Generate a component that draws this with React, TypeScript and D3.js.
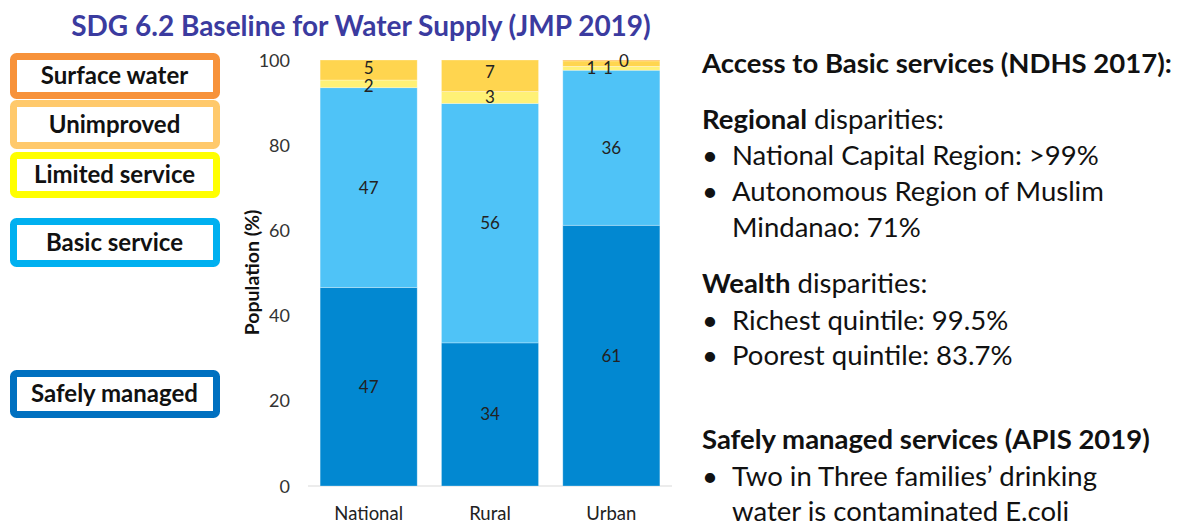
import React from "react";
import * as d3 from "d3";

const categories = ["National", "Rural", "Urban"];
const seriesNames = ["Safely managed", "Basic service", "Limited service", "Unimproved", "Surface water"];
const safelyManaged = [46.6, 33.6, 61.2];
const basicService = [46.9, 56.2, 36.4];
const limitedService = [1.8, 2.8, 0.9];
const unimproved = [4.7, 7.4, 1.3];
const surfaceWater = [0, 0, 0.2];
const valueLabels = [
  ["47", "47", "2", "5", null],
  ["34", "56", "3", "7", null],
  ["61", "36", "1", "1", "0"],
];
const yTicks = [0, 20, 40, 60, 80, 100];

const barColors = ["#0288D1", "#4FC3F7", "#FFF176", "#FFD54F", "#FFA726"];
const legendColors = ["#0070C0", "#00B0F0", "#FFFF00", "#FFC96B", "#F7923A"];

const FONT = "Lato, 'Open Sans', sans-serif";

export default function App() {
  const width = 1179;
  const height = 525;
  const y = d3.scaleLinear().domain([0, 100]).range([486, 60]);
  const x = d3.scaleBand<string>().domain(categories).range([308, 672]).paddingInner(0.2).paddingOuter(0.1);
  const seriesValues = [safelyManaged, basicService, limitedService, unimproved, surfaceWater];
  const table = categories.map((c, i) => {
    const row: any = { cat: c };
    seriesNames.forEach((s, k) => (row[s] = seriesValues[k][i]));
    return row;
  });
  const stacked = d3.stack<any>().keys(seriesNames)(table);

  // label nudges for crowded small segments
  const nudge = (ci: number, si: number): [number, number] => {
    if (ci === 2 && si === 2) return [-20, 0];
    if (ci === 2 && si === 3) return [-3.5, 4];
    if (ci === 2 && si === 4) return [12.5, 1];
    if (ci === 0 && si === 3) return [0, -2];
    if (ci === 0 && si === 2) return [0, 2.5];
    if (ci === 1 && si === 3) return [0, -4];
    return [0, 0];
  };

  const legendBoxes = [
    { name: "Surface water", si: 4, y0: 56.5, y1: 95.5 },
    { name: "Unimproved", si: 3, y0: 103.5, y1: 145.5 },
    { name: "Limited service", si: 2, y0: 155.5, y1: 194.5 },
    { name: "Basic service", si: 1, y0: 221.5, y1: 263.5 },
    { name: "Safely managed", si: 0, y0: 373.5, y1: 414.5 },
  ];

  return (
    <svg width={width} height={height} style={{ position: "absolute", left: 0, top: 0, background: "#fff" }}>
      <text x={361} y={36} textAnchor="middle" fontFamily={FONT} fontWeight={700} fontSize={28} fill="#3B3B9F">
        SDG 6.2 Baseline for Water Supply (JMP 2019)
      </text>

      {legendBoxes.map((b) => (
        <g key={b.name}>
          <rect x={13.5} y={b.y0} width={203} height={b.y1 - b.y0} rx={3} fill="#fff" stroke={legendColors[b.si]} strokeWidth={7} />
          <text x={114.5} y={(b.y0 + b.y1) / 2 + 8} textAnchor="middle" fontFamily={FONT} fontWeight={700} fontSize={24} fill="#111">
            {b.name}
          </text>
        </g>
      ))}

      <line x1={308} x2={672} y1={y(0)} y2={y(0)} stroke="#d9d9d9" strokeWidth={1} />
      {yTicks.map((t) => (
        <text key={t} x={290} y={y(t) + 6.5} textAnchor="end" fontFamily={FONT} fontSize={18} fill="#333">
          {t}
        </text>
      ))}
      <text transform={`translate(259,${(210 + 335) / 2}) rotate(-90)`} textAnchor="middle" fontFamily={FONT} fontWeight={700} fontSize={19.5} fill="#111">
        Population (%)
      </text>

      {stacked.map((layer, si) => (
        <g key={layer.key}>
          {layer.map((d, ci) => {
            const h = y(d[0]) - y(d[1]);
            if (h <= 0) return null;
            return (
              <rect key={ci} x={x(categories[ci])!} y={y(d[1])} width={x.bandwidth()} height={h} fill={barColors[si]} stroke="#fff" strokeOpacity={0.35} strokeWidth={0.8} />
            );
          })}
        </g>
      ))}
      {stacked.map((layer, si) =>
        layer.map((d, ci) => {
          const lbl = valueLabels[ci][si];
          if (lbl == null) return null;
          const [dx, dy] = nudge(ci, si);
          const cx = x(categories[ci])! + x.bandwidth() / 2 + dx;
          const cy = (y(d[0]) + y(d[1])) / 2 + dy;
          return (
            <text key={`${si}-${ci}`} x={cx} y={cy + 6} textAnchor="middle" fontFamily={FONT} fontSize={17} fill="#222">
              {lbl}
            </text>
          );
        })
      )}
      {categories.map((c) => (
        <text key={c} x={x(c)! + x.bandwidth() / 2} y={520} textAnchor="middle" fontFamily={FONT} fontSize={18.5} fill="#222">
          {c}
        </text>
      ))}

      <g fontFamily={FONT} fontSize={27.5} fill="#111">
        <text x={702} y={73} fontWeight={700}>Access to Basic services (NDHS 2017):</text>
        <text x={702} y={129}><tspan fontWeight={700}>Regional</tspan> disparities:</text>
        <text x={702} y={165}>•</text>
        <text x={732} y={165}>National Capital Region: &gt;99%</text>
        <text x={702} y={201}>•</text>
        <text x={732} y={201}>Autonomous Region of Muslim</text>
        <text x={732} y={237}>Mindanao: 71%</text>
        <text x={702} y={293}><tspan fontWeight={700}>Wealth</tspan> disparities:</text>
        <text x={702} y={330}>•</text>
        <text x={732} y={330}>Richest quintile: 99.5%</text>
        <text x={702} y={365}>•</text>
        <text x={732} y={365}>Poorest quintile: 83.7%</text>
        <text x={702} y={449} fontWeight={700}>Safely managed services (APIS 2019)</text>
        <text x={702} y={486}>•</text>
        <text x={732} y={486}>Two in Three families’ drinking</text>
        <text x={732} y={521}>water is contaminated E.coli</text>
      </g>
    </svg>
  );
}
